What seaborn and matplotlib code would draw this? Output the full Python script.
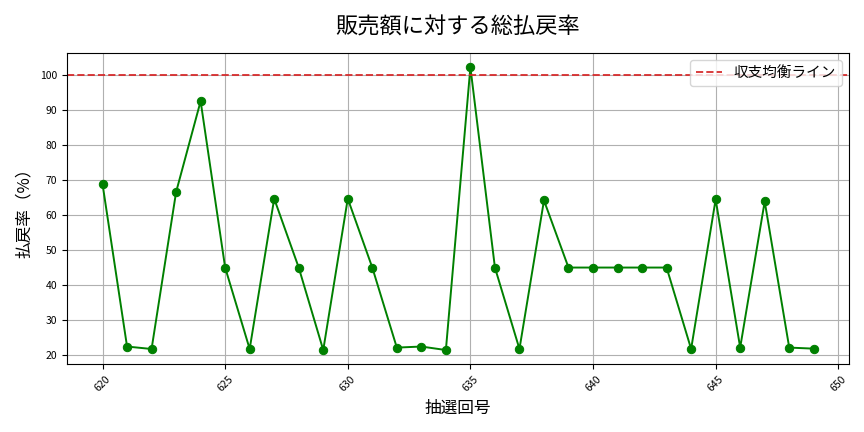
import matplotlib
matplotlib.use("Agg")
import matplotlib.pyplot as plt
import seaborn as sns
import pandas as pd

# 抽選回号と払戻率（%）
draw_numbers = list(range(620, 650))
payout_rates = [
    68.9, 22.4, 21.7, 66.6, 92.6, 45.0, 21.7, 64.7, 45.0, 21.4,
    64.7, 45.0, 22.1, 22.4, 21.4, 102.3, 45.0, 21.7, 64.2, 45.0,
    45.0, 45.0, 45.0, 45.0, 21.7, 64.5, 22.1, 63.9, 22.1, 21.8,
]
break_even = 100

df = pd.DataFrame({"draw": draw_numbers, "rate": payout_rates})

sns.set_style("ticks")
plt.rcParams["font.family"] = ["Noto Sans CJK JP", "DejaVu Sans"]
for key in ["text.color", "axes.labelcolor", "xtick.color", "ytick.color"]:
    plt.rcParams[key] = "black"

fig, ax = plt.subplots(figsize=(8.64, 4.32), dpi=100)
fig.subplots_adjust(left=0.0775, right=0.983, bottom=0.157, top=0.877)

sns.lineplot(data=df, x="draw", y="rate", ax=ax, color="green",
             marker="o", markersize=6, markeredgecolor="green",
             linewidth=1.4)
ax.axhline(break_even, color="#d62728", linestyle="--", linewidth=1.4,
           alpha=0.9, label="収支均衡ライン")

ax.set_title("販売額に対する総払戻率", fontsize=16, pad=14)
ax.set_xlabel("抽選回号", fontsize=12, labelpad=5)
ax.set_ylabel("払戻率（%）", fontsize=12, labelpad=5)
ax.tick_params(axis="both", labelsize=7.5)
plt.setp(ax.get_xticklabels(), rotation=45)
ax.grid(True, color="#b0b0b0", linewidth=0.8)
ax.legend(loc="upper right", fontsize=10.5, handlelength=1.8)
for s in ax.spines.values():
    s.set_color("black")

fig.savefig("out.png", dpi=100)
